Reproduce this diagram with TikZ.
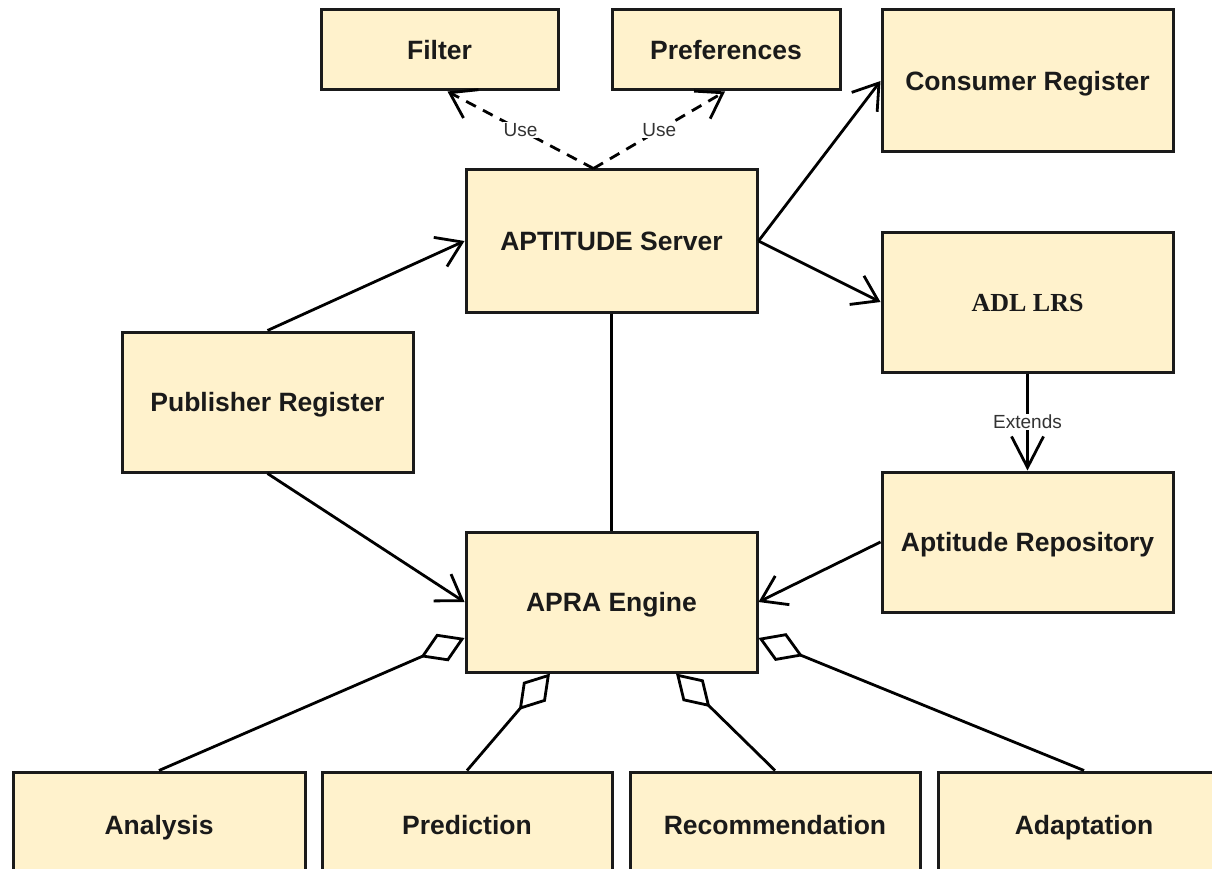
\documentclass[tikz,border=0pt]{standalone}
\usepackage{fontspec}
\setmainfont{Liberation Sans}
\newfontfamily\serifbold{Liberation Serif}
\usetikzlibrary{arrows.meta}
\definecolor{boxfill}{HTML}{FFF2CC}
\definecolor{boxline}{HTML}{1A1A1A}
\definecolor{labelgray}{HTML}{333333}
\begin{document}
\begin{tikzpicture}[x=1pt,y=-1pt,
  box/.style={draw=boxline, line width=3pt, fill=boxfill, text=boxline,
    font=\fontsize{26.5}{30}\selectfont\bfseries, inner sep=0pt,
    text height=19pt, text depth=0pt},
  conn/.style={line width=2.8pt, draw=black},
  openarr/.style={-{Straight Barb[length=24pt,width=32pt,line width=2.8pt]}},
  extarr/.style={-{Straight Barb[length=31pt,width=32pt,line width=2.8pt]}},
  agg/.style={{Diamond[length=48pt,width=30pt,line width=2.8pt,fill=white]}-},
  usedash/.style={dash pattern=on 11pt off 8pt},
  lbl/.style={fill=white, text=labelgray, font=\fontsize{19}{21}\selectfont, inner sep=1pt}
]
\useasboundingbox (0,0) rectangle (1212,869);
\clip (0,0) rectangle (1212,869);

\node[box, minimum width=237pt, minimum height=80pt] (filter) at (439.5,50) {Filter};
\node[box, minimum width=228pt, minimum height=80pt] (prefs) at (726,50) {Preferences};
\node[box, minimum width=291pt, minimum height=142pt] (consumer) at (1027.5,81) {Consumer Register};
\node[box, minimum width=291pt, minimum height=142pt] (server) at (611.5,241) {APTITUDE Server};
\node[box, minimum width=291pt, minimum height=140pt, font=\fontsize{26}{30}\serifbold\bfseries] (adl) at (1027.5,302) {ADL LRS};
\node[box, minimum width=291pt, minimum height=140pt] (publisher) at (267.5,402) {Publisher Register};
\node[box, minimum width=291pt, minimum height=140pt] (repo) at (1027.5,542) {Aptitude Repository};
\node[box, minimum width=291pt, minimum height=140pt] (apra) at (611.5,602) {APRA Engine};
\node[box, minimum width=292pt, minimum height=106pt] (analysis) at (159,825) {Analysis};
\node[box, minimum width=290pt, minimum height=106pt] (prediction) at (467,825) {Prediction};
\node[box, minimum width=290pt, minimum height=106pt] (recommendation) at (775,825) {Recommendation};
\node[box, minimum width=292pt, minimum height=106pt] (adaptation) at (1084,825) {Adaptation};

% dashed "Use" dependencies
\draw[conn, usedash, openarr] ([xshift=-18pt]server.north) -- node[lbl] {Use} ([xshift=8pt]filter.south);
\draw[conn, usedash, openarr] ([xshift=-18pt]server.north) -- node[lbl] {Use} ([xshift=-1pt]prefs.south);

% associations
\draw[conn, openarr] (publisher.north) -- (server.west);
\draw[conn, openarr] (publisher.south) -- (apra.west);
\draw[conn, openarr] (server.east) -- (consumer.west);
\draw[conn, openarr] (server.east) -- (adl.west);
\draw[conn, openarr] (repo.west) -- (apra.east);
\draw[conn] (server.south) -- (apra.north);
\draw[conn, extarr] (adl.south) -- node[lbl] {Extends} (repo.north);

% aggregations
\draw[conn, agg] ([yshift=-36pt]apra.west) -- (analysis.north);
\draw[conn, agg] ([xshift=-61.5pt]apra.south) -- (prediction.north);
\draw[conn, agg] ([xshift=64.5pt]apra.south) -- (recommendation.north);
\draw[conn, agg] ([yshift=-36pt]apra.east) -- (adaptation.north);
\end{tikzpicture}
\end{document}
